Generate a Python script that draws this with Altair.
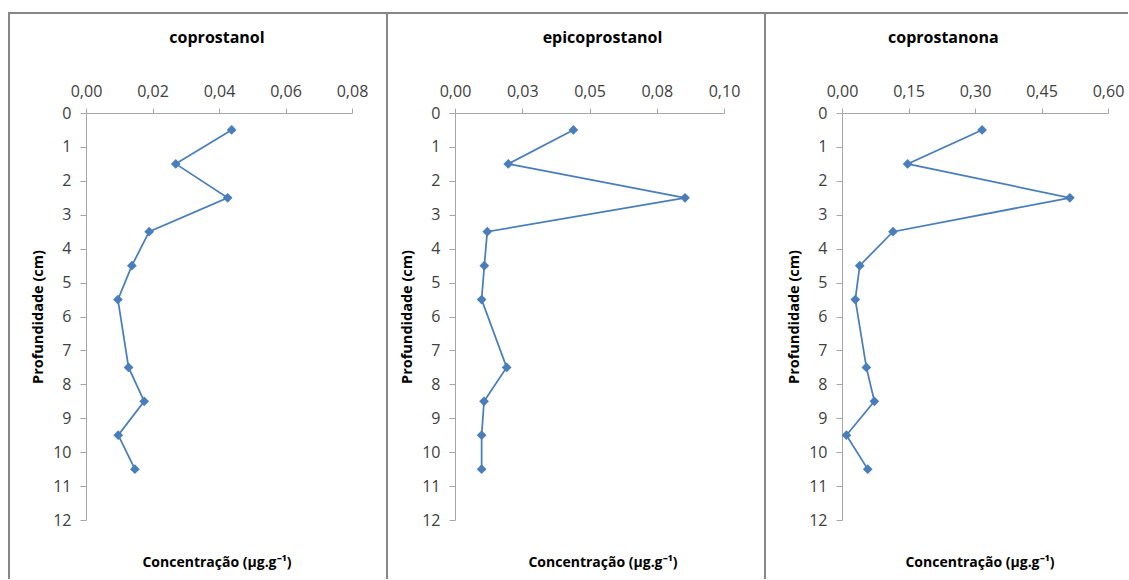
import altair as alt
import pandas as pd

# ---- data ----
depth = [0.5, 1.5, 2.5, 3.5, 4.5, 5.5, 7.5, 8.5, 9.5, 10.5]
coprostanol = [0.0438, 0.0270, 0.0426, 0.0190, 0.0138, 0.0096, 0.0128, 0.0175, 0.0097, 0.0147]
epicoprostanol = [0.0440, 0.0198, 0.0855, 0.0120, 0.0109, 0.0099, 0.0192, 0.0108, 0.0099, 0.0099]
coprostanona = [0.316, 0.148, 0.514, 0.115, 0.040, 0.030, 0.055, 0.073, 0.010, 0.058]

titles = ["coprostanol", "epicoprostanol", "coprostanona"]
x_ticks = [[0, 0.02, 0.04, 0.06, 0.08],
           [0, 0.025, 0.05, 0.075, 0.1],
           [0, 0.15, 0.3, 0.45, 0.6]]
x_labels = [["0,00", "0,02", "0,04", "0,06", "0,08"],
            ["0,00", "0,03", "0,05", "0,08", "0,10"],
            ["0,00", "0,15", "0,30", "0,45", "0,60"]]
y_ticks = list(range(13))
x_title = "Concentração (µg.g⁻¹)"
y_title = "Profundidade (cm)"

series = [coprostanol, epicoprostanol, coprostanona]

# ---- layout / style ----
FONT = "Open Sans"
BLUE = "#4a7ebb"
BORDER = "#878787"
AXIS = "#a6a6a6"
H = 407
widths = [266, 269, 266]
# per panel: left border rel x, right extent rel x, title x, x-title x
geom = [
    dict(left=-78, right=300, tx=131, bx=131),
    dict(left=-69, right=309, tx=147.5, bx=148),
    dict(left=-78, right=286, tx=101.3, bx=138),
]
one_row = pd.DataFrame({"k": [0]})


def rect(x1, x2, y1, y2):
    return alt.Chart(one_row).mark_rect(color=BORDER).encode(
        x=alt.value(x1), x2=alt.value(x2), y=alt.value(y1), y2=alt.value(y2)
    )


def text(t, x, y, size):
    return alt.Chart(pd.DataFrame({"t": [t]})).mark_text(
        font=FONT, fontSize=size, fontWeight="bold", color="#000000",
        align="center", baseline="alphabetic"
    ).encode(text="t:N", x=alt.value(x), y=alt.value(y))


def panel(i):
    df = pd.DataFrame({"depth": depth, "conc": series[i]})
    ticks = x_ticks[i]
    labels = x_labels[i]
    expr = "[" + ",".join("'%s'" % l for l in labels) + "][indexof([" + \
        ",".join(repr(v) for v in ticks) + "], datum.value)]"
    xenc = alt.X(
        "conc:Q",
        scale=alt.Scale(domain=[0, ticks[-1]], nice=False, zero=True),
        axis=alt.Axis(orient="top", values=ticks, labelExpr=expr, title=None,
                      grid=False, tickSize=5, labelPadding=9, labelFlush=False),
    )
    yenc = alt.Y(
        "depth:Q",
        scale=alt.Scale(domain=[0, 12], reverse=True, nice=False),
        axis=alt.Axis(values=y_ticks, title=y_title, grid=False, tickSize=6,
                      labelPadding=9, titlePadding=7, format="d", labelFlush=False),
    )
    base = alt.Chart(df).encode(x=xenc, y=yenc, order=alt.Order("depth:Q"))
    line = base.mark_line(color=BLUE, strokeWidth=1.75)
    pts = base.mark_point(shape="diamond", filled=True, size=95, color=BLUE, opacity=1)
    g = geom[i]
    left = rect(g["left"], g["left"] + 2, -101, 466)
    top = rect(g["left"], g["right"], -101, -99)
    ttl = text(titles[i], g["tx"], -70, 16)
    xt = text(x_title, g["bx"], 454, 14)
    return alt.layer(line, pts, left, top, ttl, xt).properties(width=widths[i], height=H)


chart = alt.hconcat(panel(0), panel(1), panel(2), spacing=0).properties(
    padding={"left": 8, "top": 12, "right": 0, "bottom": 0}
).configure_view(stroke=None).configure_axis(
    domainColor=AXIS, tickColor=AXIS, domainWidth=1, tickWidth=1,
    labelFont=FONT, labelFontSize=16, labelColor="#404040",
    titleFont=FONT, titleFontSize=14.5, titleFontWeight="bold", titleColor="#000000",
)

chart.save("out.html", embed_options={"renderer": "svg", "actions": False})
